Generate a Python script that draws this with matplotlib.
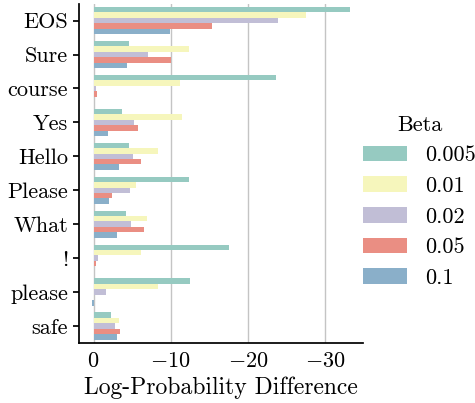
import colorsys
import numpy as np
import matplotlib
matplotlib.use("Agg")
import matplotlib.pyplot as plt
import matplotlib.colors as mcolors

plt.rcParams['font.family'] = 'cmr10'
plt.rcParams['mathtext.fontset'] = 'cm'
plt.rcParams['axes.formatter.use_mathtext'] = True
plt.rcParams['font.size'] = 16

# data (log-prob differences, negative = drop)
tokens = ['EOS', 'Sure', 'course', 'Yes', 'Hello', 'Please', 'What', '!', 'please', 'safe']
betas = ['0.005', '0.01', '0.02', '0.05', '0.1']
diff_0005 = [-33.2, -4.55, -23.6, -3.7, -4.55, -12.4, -4.2, -17.6, -12.5, -2.2]
diff_001 = [-27.5, -12.3, -11.2, -11.4, -8.3, -5.45, -6.9, -6.1, -8.3, -3.3]
diff_002 = [-23.9, -7.1, -0.34, -5.3, -5.1, -4.7, -4.9, -0.56, -1.6, -2.75]
diff_005 = [-15.4, -10.0, -0.43, -5.8, -6.2, -2.4, -6.5, -0.34, -0.02, -3.4]
diff_01 = [-9.9, -4.3, -0.05, -1.85, -3.3, -2.0, -3.1, -0.05, 0.17, -3.0]
series = [diff_0005, diff_001, diff_002, diff_005, diff_01]

set3 = ['#8dd3c7', '#ffffb3', '#bebada', '#fb8072', '#80b1d3']


def desaturate(c, prop=0.75):
    h, l, s = colorsys.rgb_to_hls(*mcolors.to_rgb(c))
    return colorsys.hls_to_rgb(h, l, s * prop)


colors = [desaturate(c) for c in set3]

fig = plt.figure(figsize=(4.75, 4.03), dpi=100)
ax = fig.add_axes([0.167, 0.149, 0.597, 0.842])

y = np.arange(len(tokens))
w = 0.8 / len(betas)
for i, (vals, col, lab) in enumerate(zip(series, colors, betas)):
    ax.barh(y - 0.4 + w * (i + 0.5), vals, height=w, color=col, label=lab, zorder=2)

ax.set_yticks(y)
ax.set_yticklabels(tokens)
ax.set_ylim(len(tokens) - 0.5, -0.5)
ax.set_xticks([0, -10, -20, -30])
ax.invert_xaxis()
ax.set_xlabel('Log-Probability Difference', fontsize=17)

ax.grid(axis='x', color='#c4c4c4', lw=1.0, zorder=0)
ax.set_axisbelow(True)
for s in ['top', 'right']:
    ax.spines[s].set_visible(False)
for s in ['left', 'bottom']:
    ax.spines[s].set_linewidth(1.25)
ax.tick_params(axis='x', length=0, pad=6)
ax.tick_params(axis='y', length=4.5, width=1.25)

fig.legend(title='Beta', loc='center right', bbox_to_anchor=(1.044, 0.5),
           frameon=False, fontsize=16, title_fontsize=16)

fig.savefig('out.png', dpi=100)
